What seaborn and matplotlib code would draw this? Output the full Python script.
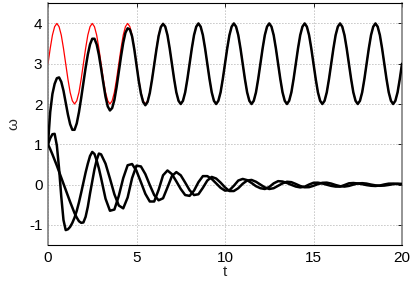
import numpy as np
import pandas as pd
import matplotlib
matplotlib.use("Agg")
import matplotlib.pyplot as plt
import seaborn as sns

# ---------------- data ----------------
# fine time grid (step 0.125) for the two upper curves
t_fine = np.arange(161) * 0.125
# time grid for the two lower (damped) curves
t_low = np.concatenate([np.arange(25) * 0.125, 3.25 + np.arange(68) * 0.25])

red_omega = [
    3.00, 3.38, 3.71, 3.92, 4.00, 3.92, 3.71, 3.38, 3.00, 2.62, 2.29, 2.08, 2.00, 2.08, 2.29, 2.62,
    3.00, 3.38, 3.71, 3.92, 4.00, 3.92, 3.71, 3.38, 3.00, 2.62, 2.29, 2.08, 2.00, 2.08, 2.29, 2.62,
    3.00, 3.38, 3.71, 3.92, 4.00, 3.92, 3.71, 3.38, 3.00, 2.62, 2.29, 2.08, 2.00, 2.08, 2.29, 2.62,
    3.00, 3.38, 3.71, 3.92, 4.00, 3.92, 3.71, 3.38, 3.00, 2.62, 2.29, 2.08, 2.00, 2.08, 2.29, 2.62,
    3.00, 3.38, 3.71, 3.92, 4.00, 3.92, 3.71, 3.38, 3.00, 2.62, 2.29, 2.08, 2.00, 2.08, 2.29, 2.62,
    3.00, 3.38, 3.71, 3.92, 4.00, 3.92, 3.71, 3.38, 3.00, 2.62, 2.29, 2.08, 2.00, 2.08, 2.29, 2.62,
    3.00, 3.38, 3.71, 3.92, 4.00, 3.92, 3.71, 3.38, 3.00, 2.62, 2.29, 2.08, 2.00, 2.08, 2.29, 2.62,
    3.00, 3.38, 3.71, 3.92, 4.00, 3.92, 3.71, 3.38, 3.00, 2.62, 2.29, 2.08, 2.00, 2.08, 2.29, 2.62,
    3.00, 3.38, 3.71, 3.92, 4.00, 3.92, 3.71, 3.38, 3.00, 2.62, 2.29, 2.08, 2.00, 2.08, 2.29, 2.62,
    3.00, 3.38, 3.71, 3.92, 4.00, 3.92, 3.71, 3.38, 3.00, 2.62, 2.29, 2.08, 2.00, 2.08, 2.29, 2.62,
    3.00,
]

upper_omega = [
    1.00, 1.80, 2.25, 2.50, 2.64, 2.66, 2.55, 2.33, 2.03, 1.74, 1.50, 1.36, 1.36, 1.52, 1.80, 2.15,
    2.53, 2.90, 3.23, 3.48, 3.62, 3.62, 3.48, 3.22, 2.88, 2.52, 2.18, 1.94, 1.84, 1.90, 2.10, 2.42,
    2.80, 3.18, 3.52, 3.77, 3.88, 3.85, 3.68, 3.36, 2.96, 2.58, 2.26, 2.05, 1.97, 2.05, 2.27, 2.60,
    2.97, 3.35, 3.69, 3.91, 3.99, 3.92, 3.71, 3.38, 3.00, 2.62, 2.29, 2.08, 2.00, 2.08, 2.29, 2.62,
    3.00, 3.38, 3.71, 3.92, 4.00, 3.92, 3.71, 3.38, 3.00, 2.62, 2.29, 2.08, 2.00, 2.08, 2.29, 2.62,
    3.00, 3.38, 3.71, 3.92, 4.00, 3.92, 3.71, 3.38, 3.00, 2.62, 2.29, 2.08, 2.00, 2.08, 2.29, 2.62,
    3.00, 3.38, 3.71, 3.92, 4.00, 3.92, 3.71, 3.38, 3.00, 2.62, 2.29, 2.08, 2.00, 2.08, 2.29, 2.62,
    3.00, 3.38, 3.71, 3.92, 4.00, 3.92, 3.71, 3.38, 3.00, 2.62, 2.29, 2.08, 2.00, 2.08, 2.29, 2.62,
    3.00, 3.38, 3.71, 3.92, 4.00, 3.92, 3.71, 3.38, 3.00, 2.62, 2.29, 2.08, 2.00, 2.08, 2.29, 2.62,
    3.00, 3.38, 3.71, 3.92, 4.00, 3.92, 3.71, 3.38, 3.00, 2.62, 2.29, 2.08, 2.00, 2.08, 2.29, 2.62,
    3.00,
]

damped_a = [
    1.00, 1.15, 1.25, 1.26, 0.97, 0.40, -0.30, -0.88,
    -1.13, -1.11, -1.05, -0.95, -0.82, -0.65, -0.44, -0.20,
    0.05, 0.30, 0.52, 0.71, 0.81, 0.76, 0.60, 0.40,
    0.16,
    -0.35, -0.65, -0.62, -0.28,
    0.16, 0.48, 0.51, 0.34,
    0.06, -0.23, -0.42, -0.42,
    -0.13, 0.23, 0.35, 0.26,
    0.08, -0.11, -0.26, -0.28,
    -0.15, 0.06, 0.21, 0.21,
    0.14, 0.03, -0.08, -0.15,
    -0.14, -0.03, 0.10, 0.14,
    0.11, 0.04, -0.04, -0.09,
    -0.11, -0.06, 0.03, 0.085,
    0.076, 0.04, -0.007, -0.049,
    -0.07, -0.053, 0.001, 0.045,
    0.047, 0.027, -0.003, -0.032,
    -0.05, -0.051, -0.012, 0.031,
    0.039, 0.028, 0.01, -0.013,
    -0.029, -0.035, -0.023, 0.003,
    0.023, 0.024, 0.015, 0.005,
]

damped_b = [
    1.00, 0.88, 0.75, 0.61, 0.47, 0.32, 0.17, 0.02,
    -0.13, -0.28, -0.43, -0.57, -0.71, -0.82, -0.91, -0.95,
    -0.94, -0.80, -0.55, -0.22, 0.08, 0.38, 0.61, 0.77,
    0.75,
    0.52, 0.15, -0.24, -0.52,
    -0.59, -0.32, 0.16, 0.47,
    0.45, 0.26, -0.01, -0.26,
    -0.39, -0.34, -0.07, 0.21,
    0.31, 0.23, 0.05, -0.14,
    -0.26, -0.24, -0.08, 0.10,
    0.19, 0.15, 0.05, -0.07,
    -0.16, -0.16, -0.09, 0.02,
    0.10, 0.115, 0.07, 0.0,
    -0.07, -0.11, -0.09, -0.03,
    0.03, 0.07, 0.06, 0.015,
    -0.035, -0.067, -0.064, -0.03,
    0.012, 0.044, 0.048, 0.025,
    -0.011, -0.04, -0.05, -0.033,
    -0.001, 0.027, 0.035, 0.024,
    0.0, -0.019, -0.03, -0.025,
    -0.009, 0.01, 0.02, 0.018,
]

x_ticks = [0, 5, 10, 15, 20]
y_ticks = [-1, 0, 1, 2, 3, 4]

# ---------------- style ----------------
sns.set_style("white")
plt.rcParams["font.family"] = ["Liberation Sans", "DejaVu Sans"]

fig = plt.figure(figsize=(4.15, 2.85), dpi=100)
ax = fig.add_axes([48 / 415, 40 / 285, 354 / 415, 241.7 / 285])

df_red = pd.DataFrame({"t": t_fine, "w": red_omega})
df_up = pd.DataFrame({"t": t_fine, "w": upper_omega})
df_a = pd.DataFrame({"t": t_low, "w": damped_a})
df_b = pd.DataFrame({"t": t_low, "w": damped_b})

sns.lineplot(data=df_red, x="t", y="w", ax=ax, color="#ff0000", linewidth=0.9,
             estimator=None, sort=False, zorder=2)
for d in (df_up, df_a, df_b):
    sns.lineplot(data=d, x="t", y="w", ax=ax, color="black", linewidth=1.8,
                 estimator=None, sort=False, zorder=3,
                 solid_joinstyle="round", solid_capstyle="round")

ax.set_xlim(0, 20)
ax.set_ylim(-1.5, 4.5)
ax.set_xticks(x_ticks)
ax.set_yticks(y_ticks)
ax.set_xticklabels([str(v) for v in x_ticks])
ax.set_yticklabels([str(v) for v in y_ticks])

ax.grid(True, color="#888888", linewidth=0.6, linestyle=(0, (1, 2.6)))
ax.set_axisbelow(True)

ax.tick_params(direction="in", length=3, width=0.6, top=True, right=True,
               labelsize=11, colors="black", pad=4)
for side in ("top", "bottom"):
    ax.spines[side].set_color("black")
    ax.spines[side].set_linewidth(0.8)
for side in ("left", "right"):
    ax.spines[side].set_color("#777777")
    ax.spines[side].set_linewidth(1.1)

ax.set_xlabel("t", fontsize=11, labelpad=0)
ax.set_ylabel("ω", fontsize=11, labelpad=6)

fig.savefig("out.png", dpi=100)
